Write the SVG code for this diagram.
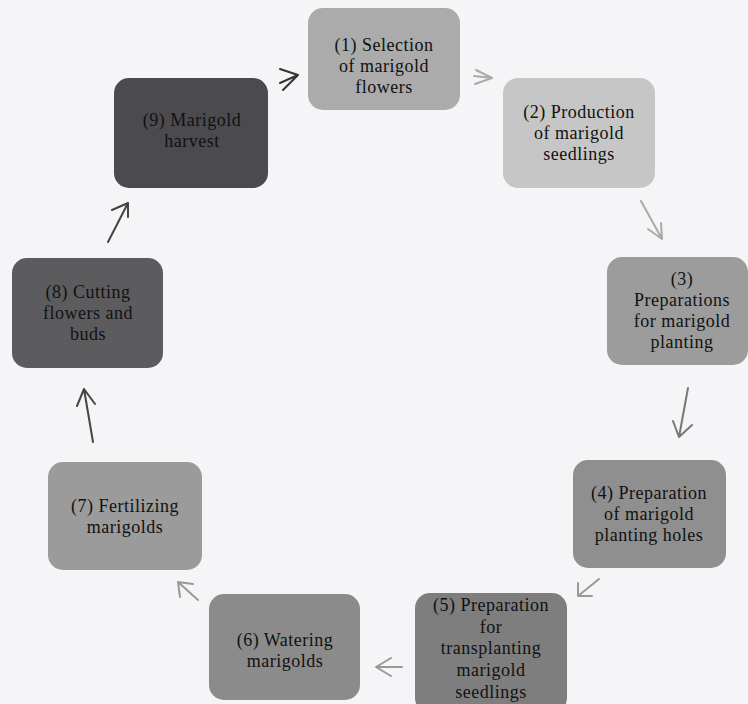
<svg xmlns="http://www.w3.org/2000/svg" width="748" height="704" viewBox="0 0 748 704">
<style>
.box{stroke:none}
.t{font-family:"Liberation Serif","Times New Roman",serif;font-size:18px;letter-spacing:0.5px;fill:#111;text-anchor:middle}
.c{fill:none;stroke-width:2;stroke-linecap:round;stroke-linejoin:round}
</style>
<rect width="748" height="704" fill="#f5f5f7"/>
<g id="node1"><rect class="box" x="308" y="8" width="152" height="102" rx="15" fill="#ababab"/>
<text class="t"><tspan x="384" y="51">(1) Selection</tspan><tspan x="384" y="72">of marigold</tspan><tspan x="384" y="93">flowers</tspan></text></g>
<g id="node2"><rect class="box" x="503" y="78" width="152" height="110" rx="15" fill="#c6c6c6"/>
<text class="t"><tspan x="579" y="118">(2) Production</tspan><tspan x="579" y="139">of marigold</tspan><tspan x="579" y="160">seedlings</tspan></text></g>
<g id="node3"><rect class="box" x="607" y="257" width="141" height="108" rx="15" fill="#9c9c9c"/>
<text class="t"><tspan x="682" y="285">(3)</tspan><tspan x="682" y="306">Preparations</tspan><tspan x="682" y="327">for marigold</tspan><tspan x="682" y="348">planting</tspan></text></g>
<g id="node4"><rect class="box" x="573" y="460" width="153" height="108" rx="15" fill="#8f8f8f"/>
<text class="t"><tspan x="649" y="499">(4) Preparation</tspan><tspan x="649" y="520">of marigold</tspan><tspan x="649" y="541">planting holes</tspan></text></g>
<g id="node5"><rect class="box" x="415" y="593" width="152" height="120" rx="15" fill="#7e7e7e"/>
<text class="t"><tspan x="491" y="611">(5) Preparation</tspan><tspan x="491" y="633">for</tspan><tspan x="491" y="654">transplanting</tspan><tspan x="491" y="676">marigold</tspan><tspan x="491" y="698">seedlings</tspan></text></g>
<g id="node6"><rect class="box" x="209" y="594" width="151" height="106" rx="15" fill="#8b8b8b"/>
<text class="t"><tspan x="285" y="646">(6) Watering</tspan><tspan x="285" y="667">marigolds</tspan></text></g>
<g id="node7"><rect class="box" x="48" y="462" width="154" height="108" rx="15" fill="#9b9b9b"/>
<text class="t"><tspan x="125" y="512">(7) Fertilizing</tspan><tspan x="125" y="533">marigolds</tspan></text></g>
<g id="node8"><rect class="box" x="12" y="258" width="151" height="110" rx="15" fill="#5c5c5e"/>
<text class="t"><tspan x="88" y="298">(8) Cutting</tspan><tspan x="88" y="319">flowers and</tspan><tspan x="88" y="340">buds</tspan></text></g>
<g id="node9"><rect class="box" x="114" y="78" width="154" height="110" rx="15" fill="#4b4b4f"/>
<text class="t"><tspan x="192" y="126">(9) Marigold</tspan><tspan x="192" y="147">harvest</tspan></text></g>
<g id="connectors">
<path class="c" stroke="#333" d="M280 83 L298 75 M280 69 L298 75 L283 90"/>
<path class="c" stroke="#aaa" d="M474 76 L492 78 M476 70 L492 78 L475 84"/>
<path class="c" stroke="#aaa" d="M641 201 L662 239 M648 229 L662 239 L661 223"/>
<path class="c" stroke="#777" d="M688 388 L679 437 M673 421 L679 437 L692 425"/>
<path class="c" stroke="#999" d="M599 579 L578 596 M578 583 L578 596 L592 596"/>
<path class="c" stroke="#999" d="M402 667 L376 667 M391 658 L376 667 L391 676"/>
<path class="c" stroke="#999" d="M198 600 L178 582 M180 597 L178 582 L193 584"/>
<path class="c" stroke="#444" d="M93 442 L84 389 M77 406 L84 389 L95 404"/>
<path class="c" stroke="#444" d="M108 242 L128 203 M112 210 L128 203 L128 217"/>
</g>
</svg>
